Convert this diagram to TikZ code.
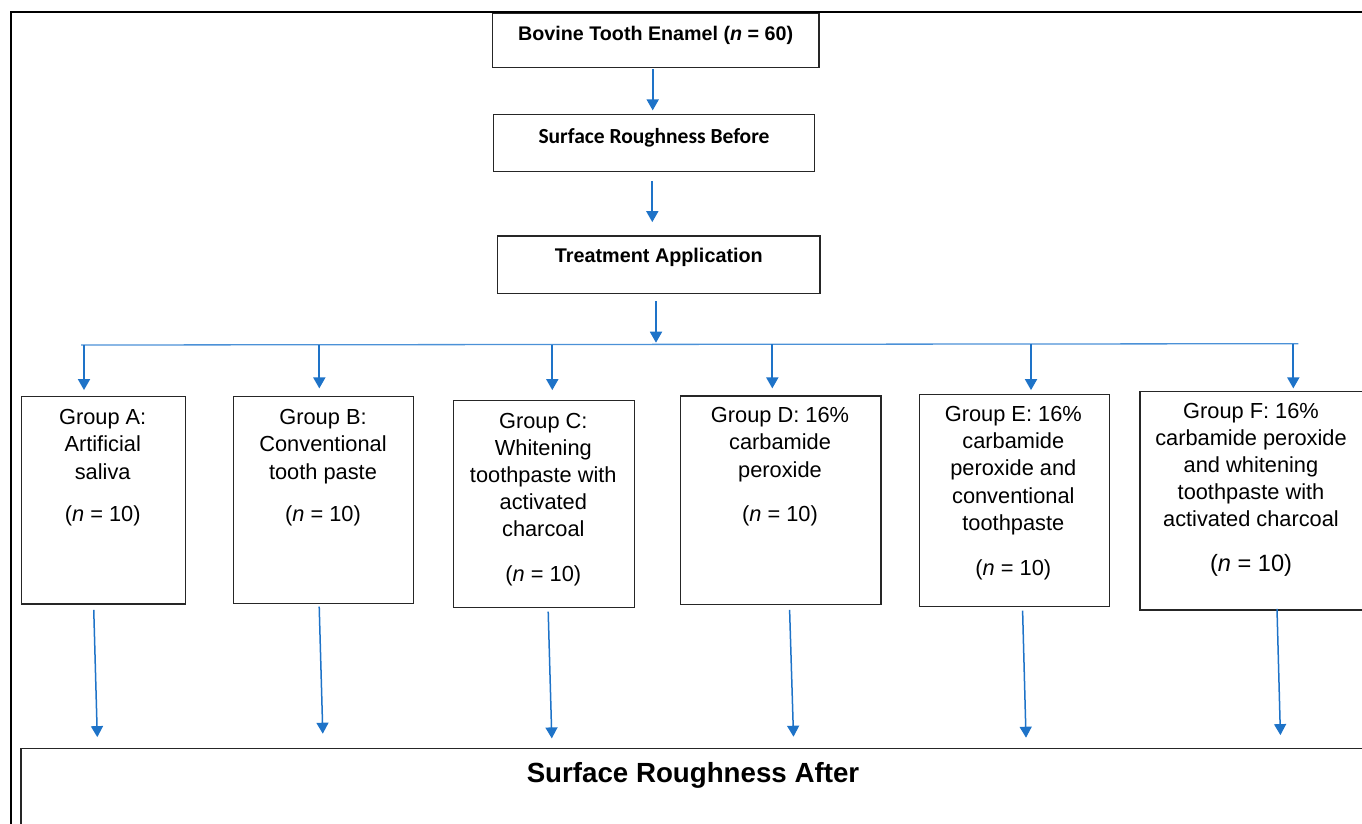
\documentclass[tikz,border=0pt]{standalone}
\usepackage{fontspec}
\setmainfont{Liberation Sans}
\newfontfamily\calibrifont{Carlito}
\usetikzlibrary{arrows.meta}
\definecolor{arrowblue}{RGB}{30,115,200}
\definecolor{busblue}{RGB}{75,145,215}
\begin{document}
\begin{tikzpicture}[x=1pt,y=-1pt,
  box/.style={draw=black!85, line width=1.2pt, inner sep=0pt},
  gbox/.style={draw=black!85, line width=1.2pt, inner sep=0pt},
  gtext/.style={align=center, inner sep=0pt, anchor=north, font=\fontsize{21.8pt}{27.2pt}\selectfont},
  arr/.style={draw=arrowblue, line width=1.8pt, -{Triangle[width=12pt,length=11pt]}},
  arrthin/.style={arr, line width=1.5pt},
  bus/.style={draw=busblue, line width=1.3pt},
  frame/.style={draw=black, line width=2.3pt}]

\useasboundingbox (0,0) rectangle (1362,823);
\draw[frame] (11,12.3) rectangle (1420,900);

% top chain
\node[box, minimum width=326.7pt, minimum height=54.4pt, text height=27.4pt, text depth=27pt,
  font=\bfseries\fontsize{19.7pt}{24pt}\selectfont] (b1) at (655.65,40.5) {Bovine Tooth Enamel (\textit{n} = 60)};
\node[box, minimum width=321.4pt, minimum height=57pt, text height=28.6pt, text depth=28.4pt,
  font=\calibrifont\bfseries\fontsize{21.5pt}{26pt}\selectfont] (b2) at (654,143.2) {Surface Roughness Before};
\node[box, minimum width=322.3pt, minimum height=57.3pt, text height=26.7pt, text depth=30.6pt,
  font=\bfseries\fontsize{19.8pt}{24pt}\selectfont] (b3) at (658.85,264.65) {Treatment Application};

\draw[arr, shorten >=3.7pt] ([xshift=-2.95pt,yshift=-0.6pt]b1.south) -- ([xshift=-1.3pt]b2.north);
\draw[arr, shorten >=13.3pt] ([xshift=-1.7pt,yshift=-9pt]b2.south) -- ([xshift=-6.55pt]b3.north);

% bus
\coordinate (busL) at (81,345);
\coordinate (busR) at (1298.3,343.7);
\coordinate (dTop) at (656,344.4);
\draw[bus] (busL) -- (busR);
\draw[arr, shorten >=1.7pt] ([xshift=-2.85pt,yshift=-7.4pt]b3.south) -- (dTop);

% group boxes
\node[gbox, minimum width=164pt, minimum height=207.3pt] (gA) at (103.3,500.35) {};
\node[gbox, minimum width=180pt, minimum height=206.6pt] (gB) at (323.3,500) {};
\node[gbox, minimum width=180.6pt, minimum height=207pt] (gC) at (544,503.8) {};
\node[gbox, minimum width=200.3pt, minimum height=208.3pt] (gD) at (780.85,500.15) {};
\node[gbox, minimum width=190pt, minimum height=212pt] (gE) at (1014.3,500.3) {};
\node[gbox, minimum width=226pt, minimum height=218.3pt] (gF) at (1253,500.85) {};

\node[gtext] (tA) at ([xshift=-0.6pt,yshift=-13.2pt]gA.north) {Group A:\\Artificial\\saliva\\[15pt](\textit{n} = 10)};
\node[gtext] (tB) at ([xshift=-0.3pt,yshift=-13.2pt]gB.north) {Group B:\\Conventional\\tooth paste\\[15.5pt](\textit{n} = 10)};
\node[gtext] (tC) at ([xshift=-0.7pt,yshift=-12.9pt]gC.north) {Group C:\\Whitening\\toothpaste with\\activated\\charcoal\\[17.2pt](\textit{n} = 10)};
\node[gtext] (tD) at ([xshift=-0.85pt,yshift=-11.9pt]gD.north) {Group D: 16\%\\carbamide\\peroxide\\[16.8pt](\textit{n} = 10)};
\node[gtext] (tE) at ([xshift=-1pt,yshift=-12.3pt]gE.north) {Group E: 16\%\\carbamide\\peroxide and\\conventional\\toothpaste\\[18.1pt](\textit{n} = 10)};
\node[gtext] (tF) at ([xshift=-2pt,yshift=-11.5pt]gF.north) {Group F: 16\%\\carbamide peroxide\\and whitening\\toothpaste with\\activated charcoal\\[17pt]{\fontsize{23.6pt}{27.2pt}\selectfont(\textit{n} = 10)}};

% drops from bus
\coordinate (dA) at (84,345);
\coordinate (dB) at (319.3,344.75);
\coordinate (dC) at (552.3,344.5);
\coordinate (dD) at (772.3,344.26);
\coordinate (dE) at (1031,343.99);
\coordinate (dF) at (1293.3,343.7);
\draw[arr, shorten >=6pt] (dA) -- (dA |- gA.north);
\draw[arr, shorten >=7.7pt] (dB) -- (dB |- gB.north);
\draw[arr, shorten >=9.6pt] (dC) -- (dC |- gC.north);
\draw[arr, shorten >=7pt] (dD) -- (dD |- gD.north);
\draw[arr, shorten >=3.6pt] (dE) -- (dE |- gE.north);
\draw[arr, shorten >=2.7pt] (dF) -- (dF |- gF.north);

% bottom box
\node[box, minimum width=1344pt, minimum height=151.7pt, text height=34.4pt, text depth=117.3pt,
  font=\bfseries\fontsize{27.7pt}{32pt}\selectfont] (bot) at (693,824.15) {Surface Roughness After};

\coordinate (eA) at (gA.south |- bot.north);
\coordinate (eB) at (gB.south |- bot.north);
\coordinate (eC) at (gC.south |- bot.north);
\coordinate (eD) at (gD.south |- bot.north);
\coordinate (eE) at (gE.south |- bot.north);
\coordinate (eF) at (gF.south |- bot.north);
\draw[arrthin] ([shift={(-9.55,5.3)}]gA.south) -- ([shift={(-6,-10.6)}]eA);
\draw[arrthin] ([shift={(-4.1,2.7)}]gB.south) -- ([shift={(-0.5,-14)}]eB);
\draw[arrthin] ([shift={(4.2,3.7)}]gC.south) -- ([shift={(7.8,-9.3)}]eC);
\draw[arrthin] ([shift={(8.75,5)}]gD.south) -- ([shift={(12.65,-11)}]eD);
\draw[arrthin] ([shift={(8.3,3.7)}]gE.south) -- ([shift={(11.7,-10)}]eE);
\draw[arrthin] ([shift={(24,-1.7)}]gF.south) -- ([shift={(27.4,-12.6)}]eF);
\end{tikzpicture}
\end{document}
